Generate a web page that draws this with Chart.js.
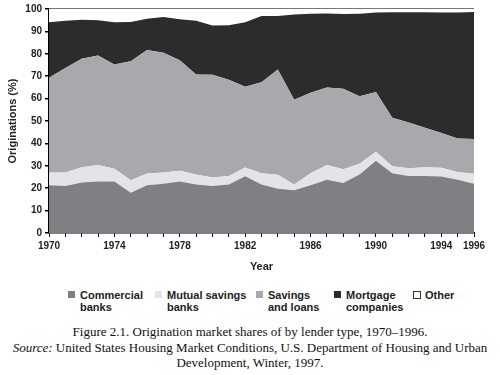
<!DOCTYPE html>
<html>
<head>
<meta charset="utf-8">
<script src="https://cdn.jsdelivr.net/npm/chart.js@4/dist/chart.umd.min.js"></script>
<style>
  body { margin: 0; background: #fff; width: 500px; height: 375px; position: relative; overflow: hidden; }
  #wrap { position: absolute; left: 0; top: 0; width: 500px; height: 280px; }
  .leg { position: absolute; top: 289px; font: bold 11px "Liberation Sans Narrow", "Liberation Sans", Arial, sans-serif; color: #222; line-height: 12px; }
  .leg i { position: absolute; left: -12px; top: 2px; width: 7px; height: 7px; }
  .cap { position: absolute; left: 0; width: 500px; text-align: center; font: 13px "Liberation Serif", "DejaVu Serif", serif; color: #111; }
</style>
</head>
<body>
<div id="wrap"><canvas id="myChart" width="500" height="280"></canvas></div>

<div class="leg" style="left:80px"><i style="background:#7f8083"></i>Commercial<br>banks</div>
<div class="leg" style="left:167px"><i style="background:#e4e4e6"></i>Mutual savings<br>banks</div>
<div class="leg" style="left:268px"><i style="background:#a8a9ac"></i>Savings<br>and loans</div>
<div class="leg" style="left:346px"><i style="background:#2e2b2d"></i>Mortgage<br>companies</div>
<div class="leg" style="left:425px"><i style="background:#fff;border:1px solid #333;width:6px;height:6px"></i>Other</div>

<div class="cap" style="top:324px">Figure 2.1. Origination market shares of by lender type, 1970–1996.</div>
<div class="cap" style="top:340px"><i>Source:</i> United States Housing Market Conditions, U.S. Department of Housing and Urban</div>
<div class="cap" style="top:355px">Development, Winter, 1997.</div>

<script>
const years = [1970, 1971, 1972, 1973, 1974, 1975, 1976, 1977, 1978, 1979, 1980, 1981, 1982,
  1983, 1984, 1985, 1986, 1987, 1988, 1989, 1990, 1991, 1992, 1993, 1994, 1995, 1996];
const shownYears = [1970, 1974, 1978, 1982, 1986, 1990, 1994, 1996];

const commercialBanks = [21.3, 21.0, 22.6, 23.0, 23.0, 18.0, 21.3, 22.0, 23.0, 21.6, 21.0, 21.6, 25.3,
  21.6, 19.7, 19.1, 21.3, 23.8, 22.3, 26.1, 32.3, 26.7, 25.4, 25.5, 25.2, 23.8, 22.0];
const mutualSavings = [5.7, 6.0, 6.8, 7.4, 5.7, 5.5, 5.3, 5.0, 4.8, 4.5, 3.8, 3.8, 3.9,
  5.1, 6.3, 2.6, 5.4, 6.6, 6.2, 4.8, 4.0, 3.1, 3.5, 3.9, 3.9, 3.4, 4.4];
const savingsLoans = [42.3, 46.7, 48.4, 48.8, 46.5, 53.2, 55.1, 53.5, 49.3, 44.7, 45.9, 43.0, 36.1,
  40.6, 47.0, 37.8, 35.9, 34.6, 35.9, 30.1, 26.6, 21.7, 20.4, 17.6, 15.5, 15.0, 15.6];
const mortgageCos = [24.8, 21.1, 17.4, 15.8, 18.9, 17.5, 13.9, 15.9, 18.3, 24.0, 21.9, 24.3, 28.8,
  29.6, 23.9, 38.1, 35.3, 33.0, 33.4, 36.9, 35.5, 47.0, 49.2, 51.5, 53.8, 56.2, 56.7];
const other = [5.9, 5.2, 4.8, 5.0, 5.9, 5.8, 4.4, 3.6, 4.6, 5.2, 7.4, 7.3, 5.9,
  3.1, 3.1, 2.4, 2.1, 2.0, 2.2, 2.1, 1.6, 1.5, 1.5, 1.5, 1.6, 1.6, 1.3];

const tickFont = { family: '"Liberation Sans Narrow", "Liberation Sans", Arial, sans-serif', size: 10, weight: 'bold' };
const titleFont = { family: '"Liberation Sans Narrow", "Liberation Sans", Arial, sans-serif', size: 11, weight: 'bold' };

function area(label, data, color, fill) {
  return {
    label: label,
    data: data,
    backgroundColor: color,
    borderWidth: 0,
    pointRadius: 0,
    tension: 0,
    fill: fill
  };
}

new Chart(document.getElementById('myChart'), {
  type: 'line',
  data: {
    labels: years,
    datasets: [
      area('Commercial banks', commercialBanks, '#7f8083', 'origin'),
      area('Mutual savings banks', mutualSavings, '#e4e4e6', '-1'),
      area('Savings and loans', savingsLoans, '#a8a9ac', '-1'),
      area('Mortgage companies', mortgageCos, '#2e2b2d', '-1'),
      area('Other', other, '#ffffff', '-1')
    ]
  },
  options: {
    animation: false,
    responsive: false,
    layout: { padding: { left: 2, right: 26, top: 7, bottom: 2 } },
    plugins: {
      legend: { display: false },
      tooltip: { enabled: false }
    },
    scales: {
      x: {
        offset: false,
        grid: { drawOnChartArea: false, tickLength: 4, tickColor: '#000', lineWidth: 1 },
        border: { color: '#000', width: 1.5 },
        ticks: {
          autoSkip: false, maxRotation: 0, padding: 3, color: '#222', font: tickFont,
          callback: function(v) { const y = years[v]; return shownYears.includes(y) ? String(y) : ''; }
        },
        title: { display: true, text: 'Year', color: '#222', font: titleFont, padding: { top: 4, bottom: 4 } },
        afterFit: function(s) { s.height = 45; }
      },
      y: {
        stacked: true,
        min: 0,
        max: 100,
        grid: {
          drawOnChartArea: true, tickLength: 4, tickColor: '#000',
          color: function(ctx) { return ctx.tick && ctx.tick.value === 100 ? '#777' : 'rgba(0,0,0,0)'; },
          lineWidth: 1.5
        },
        border: { color: '#000', width: 1.5 },
        ticks: { stepSize: 10, padding: 3, color: '#222', font: tickFont },
        title: { display: true, text: 'Originations (%)', color: '#222', font: titleFont, padding: { top: 4, bottom: 4 } },
        afterFit: function(s) { s.width = 47; }
      }
    }
  }
});
</script>
</body>
</html>
